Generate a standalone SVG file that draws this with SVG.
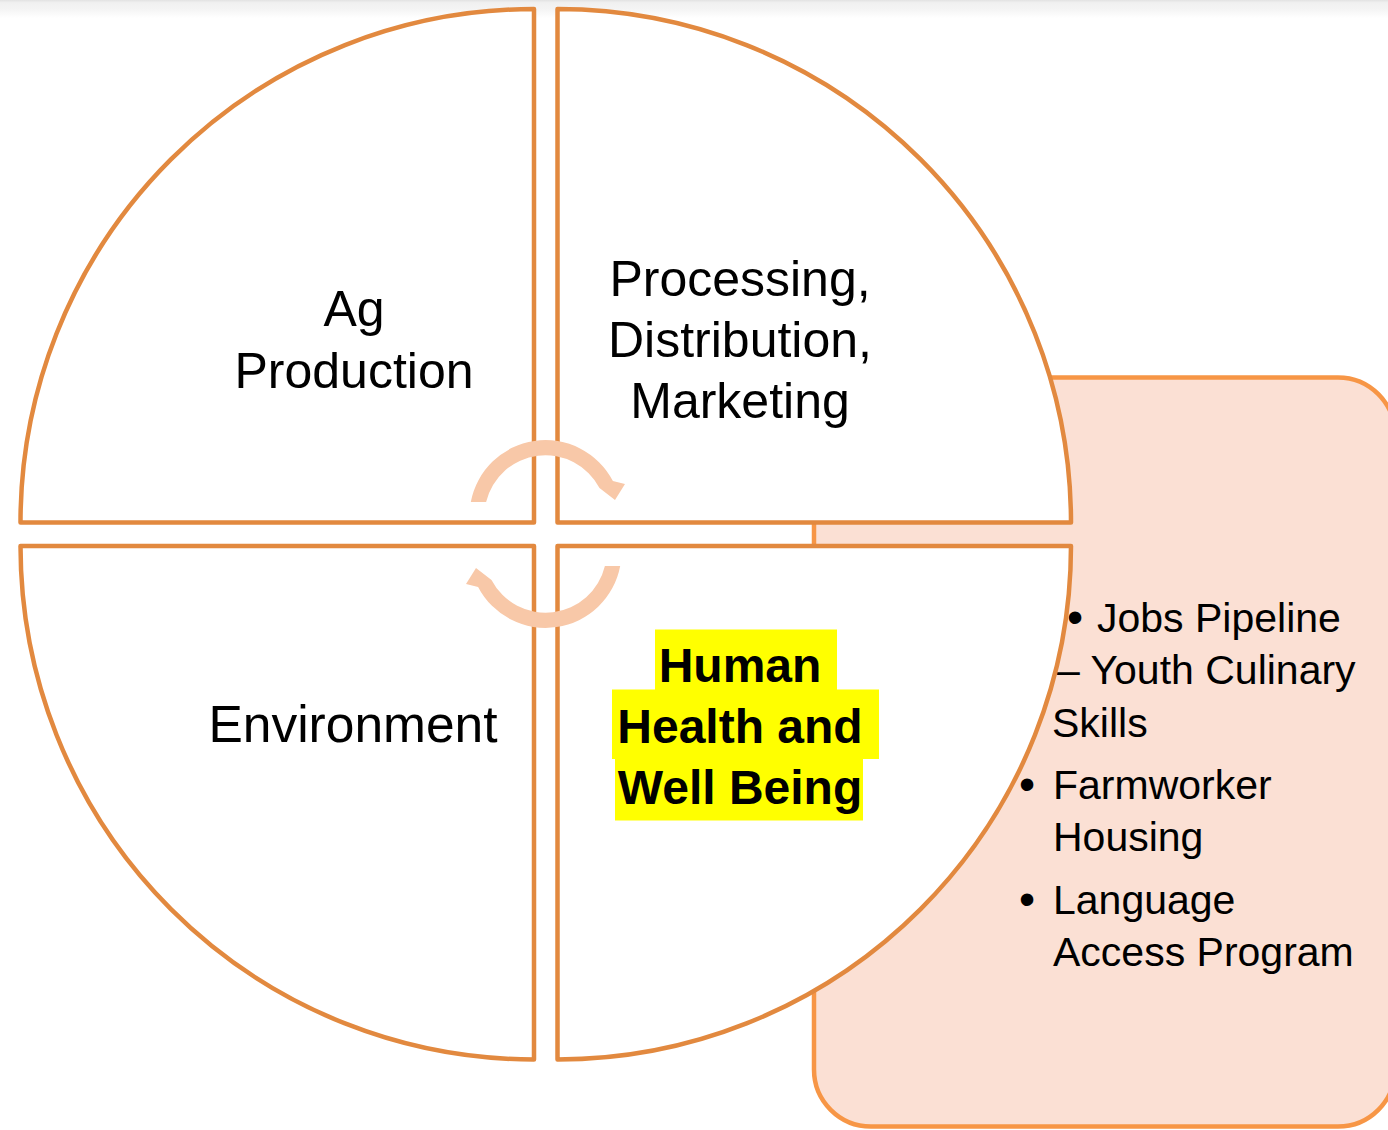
<svg xmlns="http://www.w3.org/2000/svg" width="1388" height="1130" viewBox="0 0 1388 1130">
  <defs>
    <linearGradient id="topband" x1="0" y1="0" x2="0" y2="1">
      <stop offset="0" stop-color="#e2e2e2"/>
      <stop offset="0.15" stop-color="#f0f0f0"/>
      <stop offset="0.5" stop-color="#f4f4f4"/>
      <stop offset="1" stop-color="#ffffff"/>
    </linearGradient>
    <style>
      .quad { fill: #ffffff; stroke: #E2893F; stroke-width: 4.5; stroke-linejoin: round; }
      .panel { fill: #FBE0D4; stroke: #F79646; stroke-width: 4.5; }
      .arrow { fill: #F8C8A8; stroke: none; }
      .lbl { font-family: "Liberation Sans", Arial, sans-serif; font-size: 50px; fill: #000000; text-anchor: middle; }
      .bold { font-family: "Liberation Sans", Arial, sans-serif; font-size: 48px; font-weight: bold; fill: #000000; text-anchor: middle; }
      .hl { fill: #FFFF00; }
      .item { font-family: "Liberation Sans", Arial, sans-serif; font-size: 41px; fill: #000000; }
      .bul { font-family: "Liberation Sans", Arial, sans-serif; font-size: 46px; fill: #000000; text-anchor: middle; }
    </style>
  </defs>

  <rect x="0" y="0" width="1388" height="18" fill="url(#topband)"/>

  <g id="panel">
    <rect class="panel" x="814" y="377.5" width="581" height="749" rx="57" ry="57"/>
    <text class="bul" x="1075" y="633">•</text>
    <text class="item" x="1097" y="632">Jobs Pipeline</text>
    <text class="item" x="1057" y="684">– Youth Culinary</text>
    <text class="item" x="1052" y="737">Skills</text>
    <text class="bul" x="1027" y="799.5">•</text>
    <text class="item" x="1053" y="798.5">Farmworker</text>
    <text class="item" x="1053" y="850.5">Housing</text>
    <text class="bul" x="1027" y="914.5">•</text>
    <text class="item" x="1053" y="913.5">Language</text>
    <text class="item" x="1053" y="965.5">Access Program</text>
  </g>

  <g id="ag-production">
    <path class="quad" d="M534,522.5 L20.5,522.5 A513.5,513.5 0 0 1 534,9 Z"/>
    <text class="lbl" x="354" y="326">Ag</text>
    <text class="lbl" x="354" y="387.5">Production</text>
  </g>

  <g id="processing">
    <path class="quad" d="M557.5,522.5 L557.5,9 A513.5,513.5 0 0 1 1071,522.5 Z"/>
    <text class="lbl" x="740" y="295.5">Processing,</text>
    <text class="lbl" x="740" y="356.5">Distribution,</text>
    <text class="lbl" x="740" y="417.5">Marketing</text>
  </g>

  <g id="environment">
    <path class="quad" d="M534,546 L534,1059.5 A513.5,513.5 0 0 1 20.5,546 Z"/>
    <text class="lbl" x="353" y="742" style="font-size:51.5px">Environment</text>
  </g>

  <g id="human-health">
    <path class="quad" d="M557.5,546 L1071,546 A513.5,513.5 0 0 1 557.5,1059.5 Z"/>
    <rect class="hl" x="655" y="629.5" width="182" height="60.5"/>
    <rect class="hl" x="612" y="689.5" width="267" height="69.5"/>
    <rect class="hl" x="615" y="758.5" width="248" height="62"/>
    <text class="bold" x="740" y="682">Human</text>
    <text class="bold" x="740" y="743">Health and</text>
    <text class="bold" x="740" y="804">Well Being</text>
  </g>

  <g id="connectors">
    <path class="arrow" d="M470.8,502 A76,76 0 0 1 612.9,481 L625,484 L615,500 L599.5,488 A61,61 0 0 0 486.1,502 Z"/>
    <path class="arrow" d="M620.2,566 A76,76 0 0 1 478.1,587 L466,584 L476,568 L491.5,580 A61,61 0 0 0 604.9,566 Z"/>
  </g>
</svg>
